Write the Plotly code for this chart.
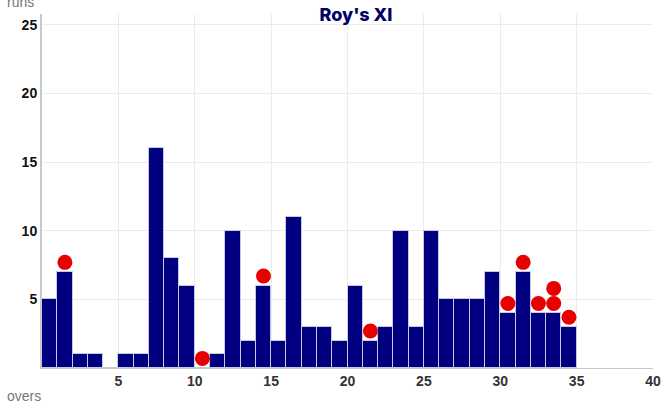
import plotly.graph_objects as go

overs = list(range(1, 36))
runs = [5, 7, 1, 1, 0, 1, 1, 16, 8, 6, 0, 1, 10, 2, 6, 2, 11, 3, 3, 2,
        6, 2, 3, 10, 3, 10, 5, 5, 5, 7, 4, 7, 4, 4, 3]
wickets = [0, 1, 0, 0, 0, 0, 0, 0, 0, 0, 1, 0, 0, 0, 1, 0, 0, 0, 0, 0,
           0, 1, 0, 0, 0, 0, 0, 0, 0, 0, 1, 1, 1, 2, 1]
x_ticks = [5, 10, 15, 20, 25, 30, 35, 40]
y_ticks = [5, 10, 15, 20, 25]

bar_x = [o - 0.5 for o in overs]
wx, wy = [], []
for o, r, w in zip(overs, runs, wickets):
    for k in range(w):
        wx.append(o - 0.5)
        wy.append(r + 0.7 + 1.1 * k)

fig = go.Figure()
fig.add_trace(go.Bar(x=bar_x, y=runs, width=1, marker=dict(color="#000080",
                     line=dict(color="#c8c8e0", width=1)), hoverinfo="x+y"))
fig.add_trace(go.Scatter(x=wx, y=wy, mode="markers",
                         marker=dict(color="#e60000", size=15, line=dict(width=0))))

fig.update_layout(
    width=661, height=410,
    margin=dict(l=42, r=8, t=14, b=42),
    plot_bgcolor="white", paper_bgcolor="white",
    showlegend=False, bargap=0,
    title=dict(text="Roy's XI", x=0.5385, xanchor="center", y=0.98, yanchor="top",
               font=dict(family="Inter", size=18, color="#000066", weight=800)),
    xaxis=dict(range=[0, 40], tickvals=x_ticks, showgrid=True, gridcolor="#ebebeb",
               showline=True, linecolor="#c8c8c8", linewidth=1, ticks="", zeroline=False,
               automargin=False,
               tickfont=dict(family="Liberation Sans", size=14, color="#333", weight=700)),
    yaxis=dict(range=[0, 25.8], tickvals=y_ticks, showgrid=True, gridcolor="#ebebeb",
               showline=True, linecolor="#c8c8c8", linewidth=2, ticks="", zeroline=False,
               automargin=False,
               tickfont=dict(family="Liberation Sans", size=14, color="#111", weight=700)),
    annotations=[
        dict(text="runs", xref="paper", yref="paper", x=-0.06, y=1.035, xanchor="left",
             yanchor="middle", showarrow=False,
             font=dict(family="Liberation Sans", size=14, color="#777")),
        dict(text="overs", xref="paper", yref="paper", x=-0.06, y=-0.05, xanchor="left",
             yanchor="top", showarrow=False,
             font=dict(family="Liberation Sans", size=14, color="#777")),
    ],
)

fig.write_html("out.html", config={"displayModeBar": False},
               post_script="document.body.style.margin='0';")
